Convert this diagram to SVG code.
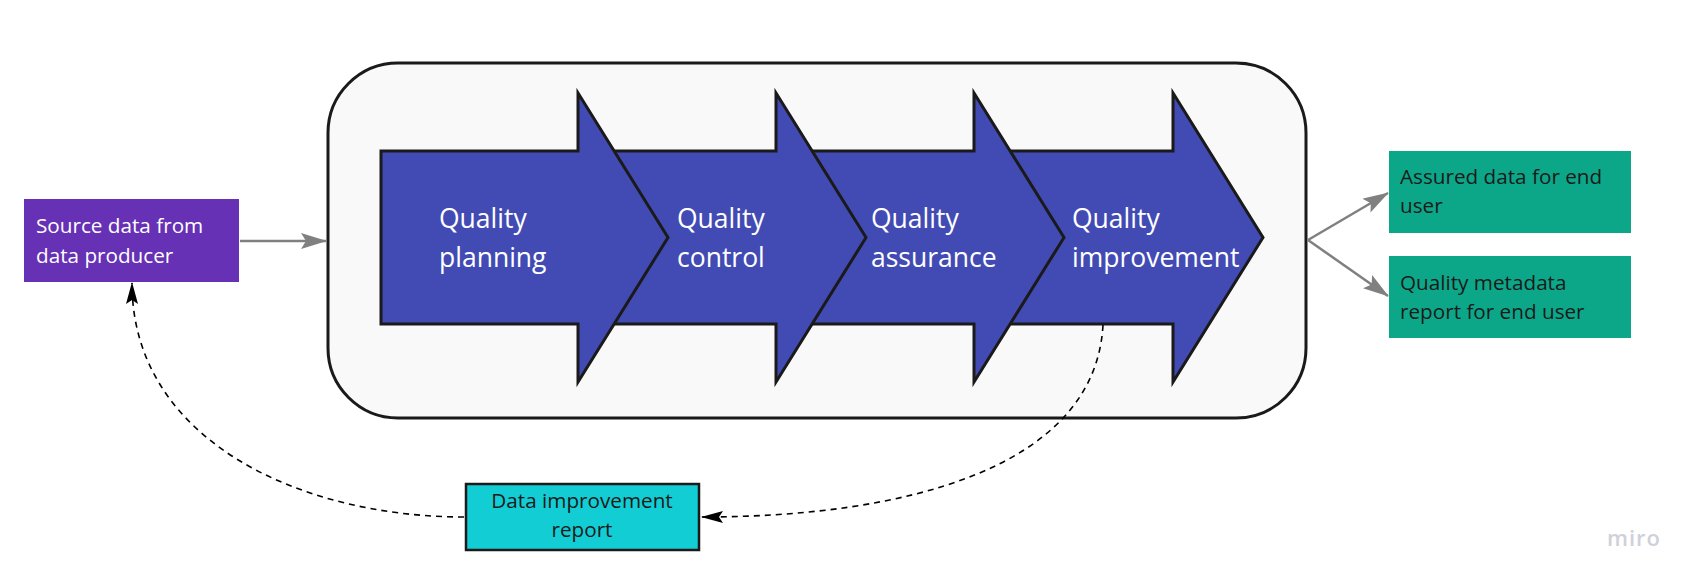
<svg xmlns="http://www.w3.org/2000/svg" width="1701" height="587" viewBox="0 0 1701 587">
<style>
.t{font-family:"Open Sans","Noto Sans","Liberation Sans",sans-serif;}
.big{font-size:26.5px;fill:#ffffff;}
.sm{font-size:20.7px;}
.arrow{fill:#424bb3;stroke:#1a1a1a;stroke-width:3;stroke-linejoin:miter;}
.gray{stroke:#808080;stroke-width:2.5;fill:none;}
.dash{stroke:#000;stroke-width:1.6;fill:none;stroke-dasharray:6 5;}
</style>
<defs>
<marker id="ga" viewBox="0 0 26 16" refX="25" refY="8" markerWidth="26" markerHeight="16" markerUnits="userSpaceOnUse" orient="auto">
<path d="M0,0 L26,8 L0,16 L5,8 z" fill="#808080"/>
</marker>
<marker id="ba" viewBox="0 0 22 12" refX="21" refY="6" markerWidth="22" markerHeight="12" markerUnits="userSpaceOnUse" orient="auto">
<path d="M0,0 L22,6 L0,12 L4,6 z" fill="#000"/>
</marker>
</defs>
<rect width="1701" height="587" fill="#ffffff"/>
<g id="container">
<rect x="328" y="63" width="978" height="355" rx="70" ry="70" fill="#f9f9f9" stroke="#1a1a1a" stroke-width="3"/>
</g>
<g id="step4">
<polygon class="arrow" points="1000,151 1173,151 1173,93 1263,237.5 1173,382 1173,324 1000,324"/>
<text class="t big" x="1072" y="228">Quality</text>
<text class="t big" x="1072" y="267">improvement</text>
</g>
<g id="step3">
<polygon class="arrow" points="800,151 974,151 974,93 1064,237.5 974,382 974,324 800,324"/>
<text class="t big" x="871" y="228">Quality</text>
<text class="t big" x="871" y="267">assurance</text>
</g>
<g id="step2">
<polygon class="arrow" points="600,151 776,151 776,93 866,237.5 776,382 776,324 600,324"/>
<text class="t big" x="677" y="228">Quality</text>
<text class="t big" x="677" y="267">control</text>
</g>
<g id="step1">
<polygon class="arrow" points="381,151 578,151 578,93 668,237.5 578,382 578,324 381,324"/>
<text class="t big" x="439" y="228">Quality</text>
<text class="t big" x="439" y="267">planning</text>
</g>
<g id="source">
<rect x="24" y="199" width="215" height="83" fill="#6631b5"/>
<text class="t sm" x="36" y="233" fill="#ffffff">Source data from</text>
<text class="t sm" x="36" y="263" fill="#ffffff">data producer</text>
</g>
<g id="assured">
<rect x="1389" y="151" width="242" height="82" fill="#0ca789"/>
<text class="t sm" x="1400" y="184" fill="#1a1a1a">Assured data for end</text>
<text class="t sm" x="1400" y="213" fill="#1a1a1a">user</text>
</g>
<g id="metadata">
<rect x="1389" y="256" width="242" height="82" fill="#0ca789"/>
<text class="t sm" x="1400" y="290" fill="#1a1a1a">Quality metadata</text>
<text class="t sm" x="1400" y="319" fill="#1a1a1a">report for end user</text>
</g>
<g id="report">
<rect x="466" y="484" width="233" height="66" fill="#12cdd4" stroke="#1a1a1a" stroke-width="2.5"/>
<text class="t sm" x="582" y="508" fill="#1a1a1a" text-anchor="middle">Data improvement</text>
<text class="t sm" x="582" y="537" fill="#1a1a1a" text-anchor="middle">report</text>
</g>
<g id="connectors">
<line class="gray" x1="240" y1="241" x2="326" y2="241" marker-end="url(#ga)"/>
<line class="gray" x1="1308" y1="240" x2="1388" y2="193" marker-end="url(#ga)"/>
<line class="gray" x1="1308" y1="240" x2="1388" y2="296" marker-end="url(#ga)"/>
<path class="dash" d="M1103,325 C1095,470 900,517 702,517" marker-end="url(#ba)"/>
<path class="dash" d="M464,517 C300,517 132,440 132,283" marker-end="url(#ba)"/>
</g>
<text class="t" x="1607" y="546" font-size="22" font-weight="600" fill="#cfd0da" letter-spacing="1">miro</text>
</svg>
